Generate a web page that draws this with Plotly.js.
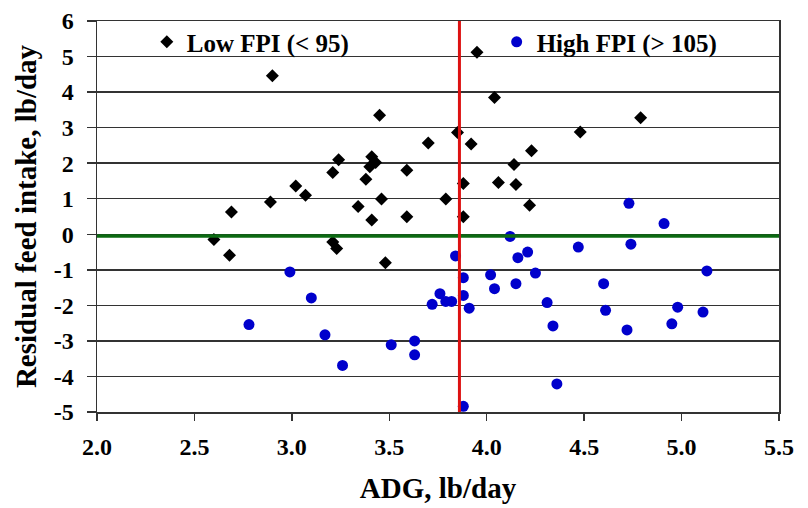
<!DOCTYPE html>
<html>
<head>
<meta charset="utf-8">
<script src="https://cdn.plot.ly/plotly-3.0.1.min.js"></script>
<style>html,body{margin:0;padding:0;background:#fff;}#chart{width:808px;height:508px;}</style>
</head>
<body>
<div id="chart"></div>
<script>
const lowX = [2.60, 2.68, 2.69, 2.89, 2.90, 3.02, 3.07, 3.21, 3.24, 3.21, 3.23, 3.34, 3.38, 3.41, 3.43, 3.40, 3.45, 3.46, 3.41, 3.48, 3.59, 3.59, 3.70, 3.79, 3.85, 3.88, 3.88, 3.95, 3.92, 4.04, 4.06, 4.14, 4.15, 4.22, 4.23, 4.48, 4.79];
const lowY = [-0.15, -0.59, 0.63, 0.91, 4.46, 1.36, 1.10, 1.74, 2.10, -0.22, -0.40, 0.78, 1.55, 2.18, 2.02, 1.90, 3.35, 0.99, 0.40, -0.80, 1.80, 0.49, 2.57, 0.99, 2.86, 1.43, 0.49, 5.12, 2.54, 3.85, 1.46, 1.96, 1.40, 0.82, 2.35, 2.88, 3.28];
const highX = [2.99, 3.10, 2.78, 3.17, 3.26, 3.84, 3.88, 3.76, 3.72, 3.79, 3.82, 3.88, 3.91, 3.51, 3.63, 3.63, 3.88, 4.12, 4.16, 4.21, 4.02, 4.04, 4.15, 4.25, 4.31, 4.34, 4.36, 4.47, 4.73, 4.91, 4.74, 5.13, 4.60, 4.61, 4.72, 4.98, 4.95, 5.11];
const highY = [-1.06, -1.79, -2.54, -2.83, -3.69, -0.61, -1.22, -1.67, -1.97, -1.89, -1.89, -1.72, -2.08, -3.11, -3.00, -3.39, -4.84, -0.06, -0.66, -0.50, -1.14, -1.53, -1.39, -1.09, -1.92, -2.58, -4.21, -0.36, 0.87, 0.30, -0.28, -1.03, -1.39, -2.14, -2.69, -2.05, -2.52, -2.19];
const seriesNames = ["Low FPI (< 95)", "High FPI (> 105)"];
const cutoffADG = 3.86;
const zeroRFI = -0.05;
const xTicks = [2.0, 2.5, 3.0, 3.5, 4.0, 4.5, 5.0, 5.5];
const xTickText = ["2.0", "2.5", "3.0", "3.5", "4.0", "4.5", "5.0", "5.5"];
const yTicks = [-5, -4, -3, -2, -1, 0, 1, 2, 3, 4, 5, 6];
const yTickText = ["-5", "-4", "-3", "-2", "-1", "0", "1", "2", "3", "4", "5", "6"];

const fontFam = "Liberation Serif";
const bold = s => "<b>" + s + "</b>";

const traces = [
  {x: lowX, y: lowY, name: bold(seriesNames[0]), type: "scatter", mode: "markers", legend: "legend",
   marker: {symbol: "diamond", size: 10, color: "#000000"}},
  {x: highX, y: highY, name: bold(seriesNames[1]), type: "scatter", mode: "markers", legend: "legend2",
   marker: {symbol: "circle", size: 11, color: "#0000cc"}}
];

const legendBase = {bgcolor: "rgba(0,0,0,0)", yanchor: "middle", xanchor: "left", y: 0.946,
                    font: {family: fontFam, size: 25, color: "#000"}, itemwidth: 30};

const tickFont = {family: fontFam, size: 24, color: "#000", weight: 700};

const layout = {
  width: 808, height: 508,
  margin: {l: 97, r: 29, t: 21, b: 96},
  paper_bgcolor: "#ffffff", plot_bgcolor: "#ffffff",
  font: {family: fontFam, color: "#000", size: 18},
  showlegend: true,
  legend: Object.assign({}, legendBase, {x: 0.073}),
  legend2: Object.assign({}, legendBase, {x: 0.586}),
  xaxis: {range: [2.0, 5.5], tickvals: xTicks, ticktext: xTickText, showgrid: false, zeroline: false,
          showline: true, linecolor: "#333", linewidth: 1.5, mirror: true,
          ticks: "outside", ticklen: 7, tickcolor: "#333", tickwidth: 1.5, ticklabelstandoff: 6,
          tickfont: tickFont,
          title: {text: bold("ADG, lb/day"), font: {family: fontFam, size: 29, color: "#000"}, standoff: 18}},
  yaxis: {range: [-5, 6], tickvals: yTicks, ticktext: yTickText, showgrid: true, gridcolor: "#333", gridwidth: 1.5, zeroline: false,
          showline: true, linecolor: "#333", linewidth: 1.5, mirror: true,
          ticks: "outside", ticklen: 9, tickcolor: "#333", tickwidth: 1.5, ticklabelstandoff: 8,
          tickfont: tickFont,
          title: {text: bold("Residual feed intake, lb/day"), font: {family: fontFam, size: 29, color: "#000"}, standoff: 8}},
  shapes: [
    {type: "line", xref: "x", yref: "y", x0: 2.0, x1: 5.5, y0: zeroRFI, y1: zeroRFI,
     line: {color: "#0b6a12", width: 3.5}, layer: "above"},
    {type: "line", xref: "x", yref: "y", x0: cutoffADG, x1: cutoffADG, y0: -5, y1: 6,
     line: {color: "#dd1111", width: 3}, layer: "above"}
  ]
};

Plotly.newPlot("chart", traces, layout, {displayModeBar: false, staticPlot: true});
</script>
</body>
</html>
